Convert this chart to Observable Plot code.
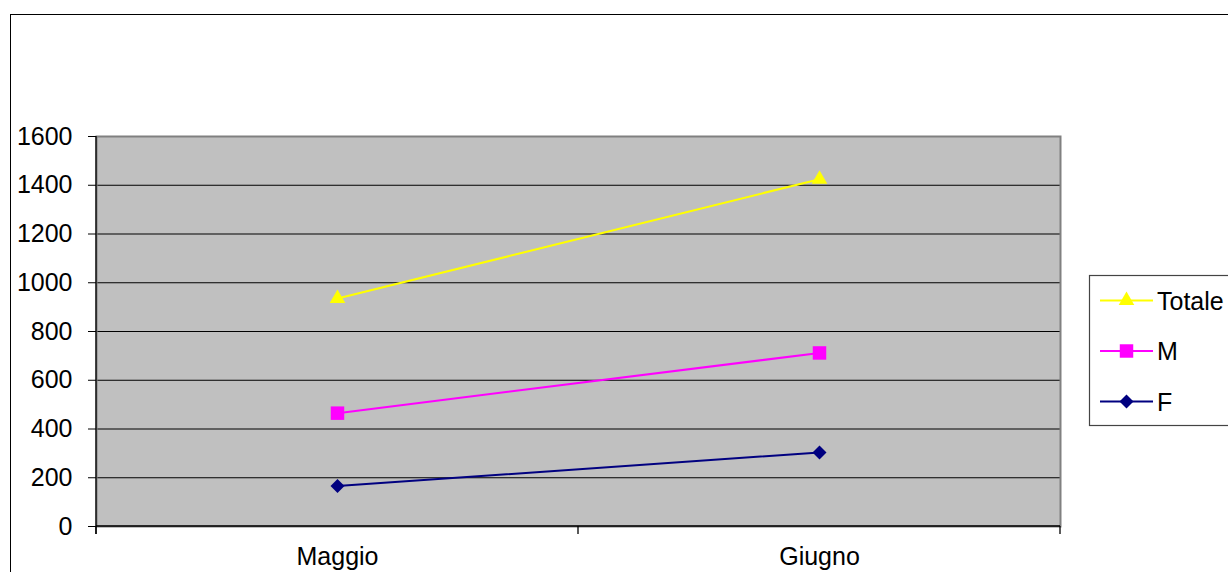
<!DOCTYPE html>
<html>
<head>
<meta charset="utf-8">
<script src="https://cdn.jsdelivr.net/npm/d3@7"></script>
<script src="https://cdn.jsdelivr.net/npm/@observablehq/plot@0.6"></script>
<style>
  html, body { margin: 0; padding: 0; background: #fff; overflow: hidden; }
  #wrap { position: relative; width: 1228px; height: 572px; overflow: hidden; font-family: "Liberation Sans", Arial, sans-serif; }
  #frame { position: absolute; left: 10px; top: 14px; width: 1400px; height: 800px; border: 1.6px solid #000; box-sizing: border-box; pointer-events: none; }
  #chart { position: absolute; left: 0; top: 0; }
  #legend { position: absolute; left: 0; top: 0; pointer-events: none; }
</style>
</head>
<body>
<div id="wrap">
  <div id="chart"></div>
  <div id="frame"></div>
  <svg id="legend" width="1228" height="572"></svg>
</div>
<script>
// ---- data ----
const categories = ["Maggio", "Giugno"];
const seriesNames = ["Totale", "M", "F"];
const totale = [935, 1425];
const maschi = [465, 712];
const femmine = [166, 304];
const yTicks = [0, 200, 400, 600, 800, 1000, 1200, 1400, 1600];

// ---- styles ----
const seriesValues = [totale, maschi, femmine];
const seriesColors = ["#FFFF00", "#FF00FF", "#000080"];
const seriesSymbols = ["triangle", "square", "square"];
const seriesRotate = [0, 0, 45];
const seriesR = [5.8, 7.6, 5.6];
const font = "'Liberation Sans', Arial, sans-serif";

const rows = [];
seriesNames.forEach((s, si) => {
  categories.forEach((c, ci) => rows.push({series: s, month: c, value: seriesValues[si][ci]}));
});

const marks = [
  Plot.frame({fill: "#C0C0C0"}),
  Plot.ruleY(yTicks.filter(t => t > 0 && t < 1600), {y: d => d, stroke: "#000", strokeWidth: 1}),
  Plot.frame({stroke: "#808080", strokeWidth: 2}),
  Plot.axisY({ticks: yTicks, tickSize: 8, tickPadding: 16, fontSize: 25, tickFormat: d => String(d), stroke: "#000", label: null}),
  Plot.axisX({tickSize: 0, tickPadding: 21, fontSize: 25, label: null})
];
seriesNames.forEach((s, si) => {
  const data = rows.filter(r => r.series === s);
  marks.push(Plot.line(data, {x: "month", y: "value", stroke: seriesColors[si], strokeWidth: 2}));
  marks.push(Plot.dot(data, {x: "month", y: "value", fill: seriesColors[si], symbol: seriesSymbols[si], r: seriesR[si], rotate: seriesRotate[si]}));
});

const chart = Plot.plot({
  width: 1228,
  height: 572,
  marginLeft: 96,
  marginRight: 168,
  marginTop: 136,
  marginBottom: 46,
  style: {background: "transparent", fontFamily: font, color: "#000"},
  x: {type: "band", domain: categories, padding: 0, label: null},
  y: {domain: [0, 1600], label: null},
  marks
});
document.getElementById("chart").appendChild(chart);

// axis lines and category-boundary ticks, from the plot's own scales
const xs = chart.scale("x");
const ys = chart.scale("y");
const band = d3.scaleBand().domain(xs.domain).range(xs.range).padding(0);
const svg = d3.select(chart);
const y0 = ys.apply(0);
const yTop = ys.apply(1600);
const bounds = [band.range()[0], ...categories.map(c => band(c) + band.bandwidth())];
const g = svg.append("g").attr("stroke", "#000").attr("stroke-width", 1.3);
g.append("line").attr("x1", bounds[0]).attr("x2", bounds[bounds.length - 1]).attr("y1", y0).attr("y2", y0);
g.append("line").attr("x1", bounds[0]).attr("x2", bounds[0]).attr("y1", yTop).attr("y2", y0 + 8);
bounds.forEach(b => g.append("line").attr("x1", b).attr("x2", b).attr("y1", y0).attr("y2", y0 + 8));

// legend
const leg = d3.select("#legend");
leg.append("rect").attr("x", 1089.5).attr("y", 275.5).attr("width", 200).attr("height", 150)
  .attr("fill", "#fff").attr("stroke", "#444").attr("stroke-width", 1.2);
const symMap = {triangle: d3.symbolTriangle, square: d3.symbolSquare};
seriesNames.forEach((s, si) => {
  const cy = 300.5 + si * 50.5;
  leg.append("line").attr("x1", 1100).attr("x2", 1153).attr("y1", cy).attr("y2", cy)
    .attr("stroke", seriesColors[si]).attr("stroke-width", 2);
  const r = seriesR[si];
  leg.append("path").attr("d", d3.symbol(symMap[seriesSymbols[si]], r * r * Math.PI)())
    .attr("transform", `translate(1126.5,${cy}) rotate(${seriesRotate[si]})`)
    .attr("fill", seriesColors[si]);
  leg.append("text").attr("x", 1157).attr("y", cy).attr("dy", "0.36em")
    .attr("font-family", font).attr("font-size", 25).attr("fill", "#000").text(s);
});
</script>
</body>
</html>
